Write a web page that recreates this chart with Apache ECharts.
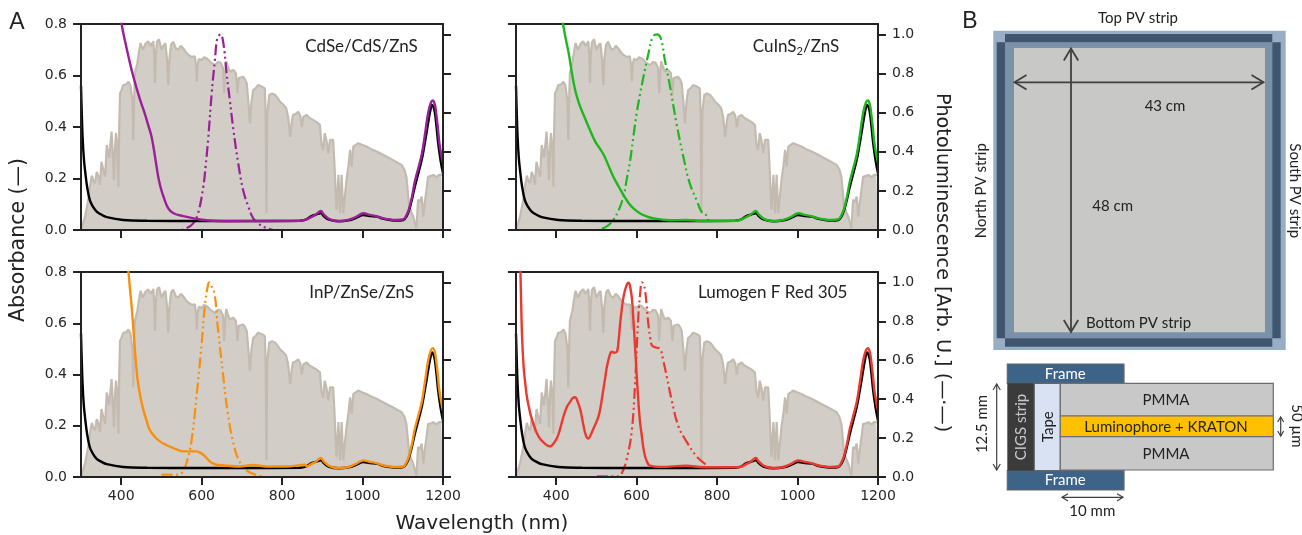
<!DOCTYPE html>
<html>
<head>
<meta charset="utf-8">
<title>LSC absorbance and photoluminescence</title>
<style>
html,body{margin:0;padding:0;background:#fff;}
#chart{width:1302px;height:535px;}
</style>
<script src="https://cdn.jsdelivr.net/npm/echarts@6/dist/echarts.min.js"></script>
</head>
<body>
<div id="chart"></div>
<script>
// all curves are [wavelength nm, value]
var wlTicks=[400,600,800,1000,1200];
var absTicks=[0,0.2,0.4,0.6,0.8];
var plTicks=[0,0.2,0.4,0.6,0.8,1.0];

var solar=[[300,0],[302,0],[310,.052],[318,.117],[322,.168],[327,.211],[331,.19],[335,.182],[339,.226],[343,.21],[347,.175],[351,.265],[356,.23],[360,.207],[364,.33],[370,.28],[376,.382],[379,.30],[382,.194],[385,.33],[387,.376],[390,.33],[393,.168],[395,.40],[397,.531],[400,.54],[405,.563],[412,.565],[418,.576],[423,.56],[426,.563],[428,.50],[430,.349],[432,.50],[434,.61],[440,.648],[444,.69],[448,.726],[454,.70],[460,.722],[467,.733],[473,.715],[480,.733],[482,.68],[484,.571],[486,.68],[489,.73],[494,.741],[500,.70],[506,.718],[510,.726],[514,.66],[517,.563],[520,.67],[524,.72],[529,.731],[536,.705],[542,.70],[548,.715],[554,.706],[560,.692],[567,.68],[575,.672],[583,.674],[586,.64],[588,.576],[590,.64],[593,.664],[600,.66],[606,.671],[614,.665],[622,.652],[633,.64],[640,.652],[647,.65],[653,.63],[656,.531],[659,.62],[661,.655],[665,.635],[670,.615],[678,.622],[685,.61],[689,.531],[692,.59],[695,.595],[703,.595],[708,.585],[712,.57],[716,.50],[720,.415],[724,.50],[728,.543],[734,.55],[740,.563],[750,.557],[757,.55],[759,.45],[761,.065],[763,.45],[768,.524],[775,.53],[783,.524],[790,.51],[795,.498],[803,.487],[810,.474],[815,.44],[820,.362],[824,.42],[827,.447],[833,.45],[840,.459],[845,.445],[849,.40],[853,.44],[861,.447],[868,.435],[877,.427],[885,.42],[894,.408],[898,.33],[902,.31],[906,.376],[910,.35],[915,.298],[919,.350],[927,.350],[930,.259],[935,.078],[938,.15],[940,.214],[942,.14],[944,.065],[946,.14],[948,.214],[950,.14],[952,.065],[956,.13],[960,.194],[965,.25],[969,.311],[973,.246],[977,.324],[983,.33],[989,.337],[1000,.33],[1010,.324],[1020,.315],[1035,.305],[1051,.292],[1075,.272],[1097,.253],[1104,.235],[1109,.207],[1116,.091],[1121,.07],[1126,.052],[1134,.006],[1138,.117],[1143,.11],[1147,.130],[1151,.052],[1155,.11],[1159,.156],[1163,.207],[1170,.21],[1176,.214],[1184,.205],[1190,.214],[1196,.214],[1200,.214]];

var blackAbs=[[300,.56],[302,.45],[304,.36],[307,.28],[310,.233],[315,.17],[322,.116],[330,.09],[339,.071],[350,.06],[364,.05],[405,.039],[464,.036],[588,.035],[700,.035],[844,.036],[857,.039],[873,.054],[885,.06],[896,.065],[905,.052],[915,.041],[940,.034],[969,.039],[985,.048],[1002,.058],[1018,.054],[1035,.052],[1050,.044],[1068,.039],[1085,.037],[1101,.039],[1110,.055],[1116,.078],[1123,.12],[1130,.168],[1147,.272],[1155,.34],[1163,.415],[1168,.46],[1173,.486],[1177,.475],[1180,.454],[1184,.40],[1188,.337],[1194,.27],[1200,.22]];

// the four dyes share the same NIR part above 860 nm
var nirTail=[[861,.041],[872,.05],[882,.058],[890,.068],[896,.074],[904,.06],[915,.045],[928,.037],[940,.035],[955,.036],[969,.041],[985,.052],[1002,.065],[1018,.059],[1035,.054],[1050,.046],[1068,.041],[1085,.039],[1101,.041],[1110,.06],[1116,.084],[1123,.13],[1130,.188],[1147,.292],[1155,.37],[1163,.454],[1170,.495],[1175,.503],[1180,.485],[1183,.454],[1187,.40],[1191,.337],[1196,.29],[1200,.26]];

var cdseAbs=[[395,.88],[401,.8],[410,.73],[418,.674],[430,.596],[447,.505],[457,.46],[467,.408],[475,.365],[480,.324],[486,.265],[492,.207],[498,.165],[505,.130],[517,.084],[530,.065],[554,.054],[596,.041],[637,.035],[679,.034],[761,.035],[844,.036]];
var cdsePl=[[500,0],[546,0],[562,.009],[579,.034],[591,.085],[604,.22],[610,.33],[616,.46],[625,.70],[633,.87],[639,.98],[647,1],[654,.954],[662,.80],[670,.664],[679,.51],[691,.34],[703,.204],[716,.12],[728,.06],[741,.034],[753,.017],[778,0]];

var cisAbs=[[410,.88],[417,.8],[424,.74],[431,.687],[439,.61],[447,.544],[457,.49],[468,.447],[482,.395],[497,.343],[507,.32],[518,.292],[530,.25],[542,.207],[555,.17],[567,.136],[580,.105],[592,.084],[605,.068],[617,.058],[642,.045],[683,.038],[724,.039],[766,.035],[848,.036]];
var cisPl=[[451,0],[501,0],[517,.009],[530,.025],[542,.051],[555,.10],[567,.17],[575,.255],[584,.358],[592,.48],[600,.596],[608,.69],[617,.784],[629,.90],[640,.988],[650,1],[660,.98],[670,.87],[683,.733],[699,.545],[716,.375],[732,.238],[749,.153],[761,.094],[770,.085],[778,.051]];

var inpAbs=[[412,.88],[418,.8],[422,.73],[426,.664],[430,.58],[434,.495],[438,.42],[442,.365],[448,.31],[455,.262],[463,.22],[471,.184],[483,.158],[496,.139],[512,.125],[530,.113],[554,.10],[570,.10],[587,.10],[596,.095],[604,.087],[612,.074],[620,.061],[628,.053],[637,.048],[662,.044],[695,.041],[728,.047],[761,.041],[811,.041],[857,.048]];
var inpPl=[[500,.012],[533,.012],[550,.02],[562,.07],[575,.19],[587,.41],[600,.685],[608,.88],[616,.99],[619,1],[622,.99],[632,.94],[640,.77],[653,.53],[665,.327],[677,.19],[690,.097],[706,.046],[723,.02],[752,.003]];

var redAbs=[[308,.95],[311,.8],[315,.55],[319,.43],[323,.365],[327,.314],[333,.265],[340,.223],[356,.158],[373,.128],[385,.119],[393,.13],[402,.152],[410,.19],[418,.236],[427,.275],[435,.294],[441,.308],[447,.311],[453,.295],[460,.262],[466,.215],[472,.171],[476,.155],[480,.15],[486,.165],[493,.19],[505,.236],[511,.28],[517,.34],[522,.39],[526,.43],[532,.47],[538,.489],[545,.485],[551,.489],[555,.53],[559,.60],[563,.655],[567,.70],[574,.745],[580,.758],[584,.74],[588,.70],[592,.61],[596,.508],[600,.40],[604,.30],[608,.22],[613,.158],[617,.11],[621,.08],[627,.055],[633,.044],[658,.039],[724,.044],[766,.038],[848,.038]];
var redPl=[[501,.003],[551,.003],[563,.02],[575,.089],[588,.24],[596,.48],[604,.82],[609,.95],[613,1],[617,.99],[621,.957],[629,.787],[634,.71],[638,.676],[648,.665],[658,.659],[666,.60],[675,.514],[687,.395],[704,.259],[724,.182],[749,.106],[778,.055]];

var panels=[
	{name:"CdSe/CdS/ZnS",color:"#9b1f98",abs:cdseAbs,pl:cdsePl,left:81,top:24,height:206,xLabels:false,plLabels:false,absLabels:true},
	{name:"CuInS2/ZnS",color:"#1eb71e",abs:cisAbs,pl:cisPl,left:516,top:24,height:206,xLabels:false,plLabels:true,absLabels:false},
	{name:"InP/ZnSe/ZnS",color:"#f7900f",abs:inpAbs,pl:inpPl,left:81,top:272,height:205,xLabels:true,plLabels:false,absLabels:true},
	{name:"Lumogen F Red 305",color:"#ea3a30",abs:redAbs,pl:redPl,left:516,top:272,height:205,xLabels:true,plLabels:true,absLabels:false}
];

var axisColor="#222";
var tickFont={color:"#262626",fontFamily:"DejaVu Sans",fontSize:14};
var noteFont="Lato";
var grid=[],xAxis=[],yAxis=[],series=[];

function lineStyleOf(width){
	return {lineStyle:{color:axisColor,width:width}};
}
function oneDecimal(v){
	return v.toFixed(1);
}
function plainNumber(v){
	return String(v);
}

for(var i=0;i<panels.length;i++){
	var p=panels[i];
	grid.push({left:p.left,top:p.top,width:362,height:p.height,show:true,backgroundColor:"#fff",borderColor:axisColor,borderWidth:2});
	xAxis.push({
		type:"value",gridIndex:i,min:300,max:1200,z:5,
		axisLine:lineStyleOf(2),
		axisTick:{show:true,length:8,lineStyle:{color:axisColor,width:2},customValues:wlTicks},
		axisLabel:Object.assign({show:p.xLabels,margin:12,customValues:wlTicks,formatter:plainNumber},tickFont),
		splitLine:{show:false}
	});
	yAxis.push({
		type:"value",gridIndex:i,position:"left",min:0,max:0.8,z:5,
		axisLine:Object.assign({show:true},lineStyleOf(2)),
		axisTick:{show:true,length:8,lineStyle:{color:axisColor,width:2},customValues:absTicks},
		axisLabel:Object.assign({show:p.absLabels,margin:14,customValues:absTicks,formatter:oneDecimal},tickFont),
		splitLine:{show:false}
	});
	yAxis.push({
		type:"value",gridIndex:i,position:"right",min:0,max:1.053,z:5,
		axisLine:Object.assign({show:true},lineStyleOf(2)),
		axisTick:{show:true,length:8,lineStyle:{color:axisColor,width:2},customValues:plTicks},
		axisLabel:Object.assign({show:p.plLabels,margin:14,customValues:plTicks,formatter:oneDecimal},tickFont),
		splitLine:{show:false}
	});
	var absIdx=i*2,plIdx=i*2+1;
	series.push({
		type:"line",xAxisIndex:i,yAxisIndex:absIdx,data:solar,showSymbol:false,z:1,
		lineStyle:{color:"#c4bbb0",width:2.2},areaStyle:{color:"#d3cdc7",opacity:1}
	});
	series.push({
		type:"line",xAxisIndex:i,yAxisIndex:plIdx,data:p.pl,showSymbol:false,z:2,smooth:0.4,
		lineStyle:{color:p.color,width:2.2,type:[11,3.5,2,3.5,2,3.5]}
	});
	series.push({
		type:"line",xAxisIndex:i,yAxisIndex:absIdx,data:blackAbs,showSymbol:false,z:3,smooth:0.4,
		lineStyle:{color:"#000",width:2.4}
	});
	series.push({
		type:"line",xAxisIndex:i,yAxisIndex:absIdx,data:p.abs.concat(nirTail),showSymbol:false,z:4,smooth:0.4,
		lineStyle:{color:p.color,width:2.4}
	});
}

// ---- texts and panel B schematic ----
function txt(x,y,s,size,opt){
	opt=opt||{};
	return {
		type:"text",x:x,y:y,rotation:opt.rot||0,z:20,
		style:{text:s,fontSize:size,fontFamily:opt.font||noteFont,fill:opt.fill||"#222",align:opt.align||"center",verticalAlign:"middle",rich:opt.rich}
	};
}
function box(x0,y0,x1,y1,fill,stroke){
	return {
		type:"rect",z:10,shape:{x:x0,y:y0,width:x1-x0,height:y1-y0},
		style:{fill:fill,stroke:stroke||null,lineWidth:stroke?1.2:0}
	};
}
function arrow(x0,y0,x1,y1,head,color,width){
	var dx=x1-x0,dy=y1-y0,len=Math.sqrt(dx*dx+dy*dy),ux=dx/len,uy=dy/len;
	var out=[{type:"line",z:12,shape:{x1:x0,y1:y0,x2:x1,y2:y1},style:{stroke:color,lineWidth:width}}];
	function wing(px,py,s){
		return {type:"polyline",z:12,
			shape:{points:[[px+s*ux*head-uy*head*.6,py+s*uy*head+ux*head*.6],[px,py],[px+s*ux*head+uy*head*.6,py+s*uy*head-ux*head*.6]]},
			style:{stroke:color,lineWidth:width,fill:null}};
	}
	out.push(wing(x0,y0,1),wing(x1,y1,-1));
	return out;
}

var lineDark="#404040";
var graphics=[
	txt(17,23,"A",23,{font:"Liberation Sans"}),
	txt(970,22,"B",23,{font:"Liberation Sans"}),
	txt(19,240,"Absorbance (\u2014)",20.5,{font:"DejaVu Sans",rot:Math.PI/2}),
	txt(482,524,"Wavelength (nm)",20,{font:"DejaVu Sans"}),
	txt(942,262.5,"Photoluminescence [Arb. U.] (\u2014\u00b7\u2014)",19.2,{font:"DejaVu Sans",rot:-Math.PI/2}),
	txt(361.5,47,"CdSe/CdS/ZnS",17),
	txt(796,47,"{n|CuInS}{s|2}{n|/ZnS}",17,{rich:{n:{fontSize:17,fontFamily:noteFont,fill:"#222"},s:{fontSize:11,fontFamily:noteFont,fill:"#222",padding:[9,0,0,0]}}}),
	txt(361.7,293,"InP/ZnSe/ZnS",17),
	txt(772.7,293,"Lumogen F Red 305",17),

	box(993.3,30.7,1285.7,350,"#98aec4"),
	box(1005,42.3,1272.3,338.3,"#7a92a9"),
	box(1005,34,1272.3,42.3,"#40566e"),
	box(1005,338.3,1272.3,346.7,"#40566e"),
	box(996.7,42.3,1005,338.3,"#40566e"),
	box(1272.3,42.3,1280.7,338.3,"#40566e"),
	box(1014,48,1265,332.3,"#c8c8c6"),
	txt(1138,18,"Top PV strip",15),
	txt(1165,106,"43 cm",15),
	txt(1112.7,206,"48 cm",15),
	txt(1086,323.5,"Bottom PV strip",15,{align:"left"}),
	txt(980.7,190.7,"North PV strip",15,{rot:Math.PI/2}),
	txt(1295,190.7,"South PV strip",15,{rot:-Math.PI/2}),

	box(1007.3,364,1124,383.3,"#3d6389","#666"),
	box(1007.3,470.7,1124,490,"#3d6389","#666"),
	box(1007.3,383.3,1034.3,470.7,"#3b3b3b"),
	box(1034.3,383.3,1060.3,470.7,"#d9e2f3","#666"),
	box(1060.3,383.3,1273.3,416,"#c8c8c8","#6e6e6e"),
	box(1060.3,416,1273.3,436.7,"#ffc000","#6e6e6e"),
	box(1060.3,436.7,1273.3,470,"#c8c8c8","#6e6e6e"),
	txt(1065.3,374,"Frame",15,{fill:"#fff"}),
	txt(1065.3,480,"Frame",15,{fill:"#fff"}),
	txt(1021,427,"CIGS strip",15,{fill:"#c8c8c8",rot:Math.PI/2}),
	txt(1047.7,426.7,"Tape",15,{rot:Math.PI/2}),
	txt(1166,400,"PMMA",15),
	txt(1166,426.7,"Luminophore + KRATON",15),
	txt(1166,453.7,"PMMA",15),
	txt(981.7,424,"12.5 mm",15,{rot:Math.PI/2}),
	txt(1297.3,426,"50 \u00b5m",15,{rot:-Math.PI/2}),
	txt(1092.3,510.7,"10 mm",15)
];
graphics=graphics
	.concat(arrow(1014.5,82.3,1263.5,82.3,12,lineDark,1.8))
	.concat(arrow(1071,48.5,1071,332,12,lineDark,1.8))
	.concat(arrow(996.7,384,996.7,470,6,lineDark,1.2))
	.concat(arrow(1280.7,417,1280.7,436,5,lineDark,1.2))
	.concat(arrow(1062,497.3,1123,497.3,6,lineDark,1.2));

var myChart=echarts.init(document.getElementById("chart"),null,{renderer:"canvas"});
myChart.setOption({
	animation:false,
	backgroundColor:"#fff",
	grid:grid,
	xAxis:xAxis,
	yAxis:yAxis,
	series:series,
	graphic:{elements:graphics}
});
</script>
</body>
</html>
